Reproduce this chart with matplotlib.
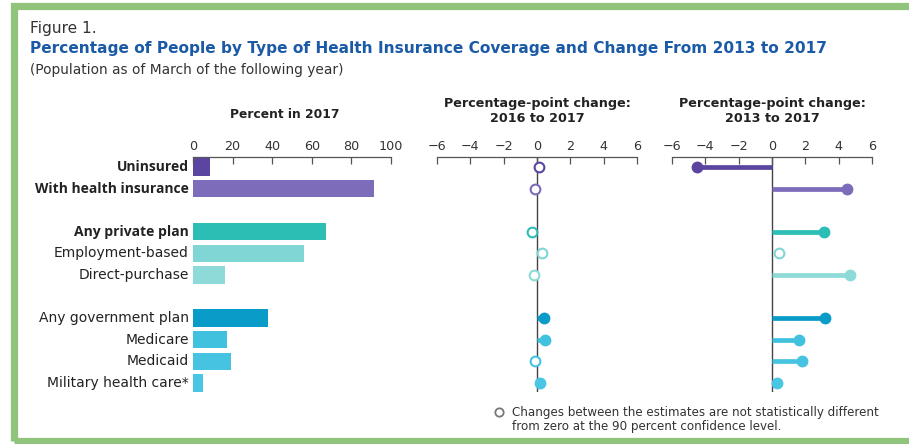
import matplotlib
matplotlib.use("Agg")
import matplotlib.pyplot as plt
from matplotlib.patches import Rectangle

plt.rcParams['font.family'] = ['DejaVu Sans']

categories = ["Uninsured", "With health insurance",
              "Any private plan", "Employment-based", "Direct-purchase",
              "Any government plan", "Medicare", "Medicaid", "Military health care*"]
bold = [True, True, True, False, False, False, False, False, False]
rows = [0, 1, 3, 4, 5, 7, 8, 9, 10]
pct_2017 = [8.8, 91.2, 67.2, 56.0, 16.0, 37.7, 17.2, 19.3, 4.8]
chg_16_17 = [0.1, -0.1, -0.3, 0.3, -0.2, 0.4, 0.5, -0.1, 0.2]
sig_16_17 = [False, False, False, False, False, True, True, False, True]
chg_13_17 = [-4.5, 4.5, 3.1, 0.4, 4.7, 3.2, 1.6, 1.8, 0.3]
sig_13_17 = [True, True, True, False, True, True, True, True, True]
colors = ["#5b45a0", "#7c6cba", "#2cbdb5", "#80d6d4", "#8ddad8",
          "#0a9cc9", "#40c2df", "#45c3e0", "#48c6e3"]

W, H = 909, 444
fig = plt.figure(figsize=(W / 100, H / 100), dpi=100)

# green frame
fig.patches.append(Rectangle((13.5 / W, 1 - 440.5 / H), 900 / W, 434 / H,
                             transform=fig.transFigure, fill=False,
                             edgecolor="#8fc47a", linewidth=5.2))

txt = "#333333"
fig.text(30 / W, 1 - 28 / H, "Figure 1.", fontsize=11.1, color=txt, va="center")
fig.text(30 / W, 1 - 48 / H,
         "Percentage of People by Type of Health Insurance Coverage and Change From 2013 to 2017",
         fontsize=11.1, color="#1b5aa6", fontweight="bold", va="center")
fig.text(30 / W, 1 - 70 / H, "(Population as of March of the following year)",
         fontsize=9.9, color=txt, va="center")

bottom = 1 - 392 / H
height = (392 - 157) / H
ylim = (10.42, -0.46)


def style_axis(ax, xlim, ticks, labels):
    ax.set_xlim(*xlim)
    ax.set_ylim(*ylim)
    for s in ["right", "bottom", "left"]:
        ax.spines[s].set_visible(False)
    ax.spines["top"].set_color("#555555")
    ax.spines["top"].set_linewidth(0.9)
    ax.xaxis.tick_top()
    ax.set_xticks(ticks)
    ax.set_xticklabels(labels)
    ax.tick_params(axis="x", direction="in", length=5, width=0.9, color="#555555",
                   labelsize=9.2, labelcolor=txt, pad=3)
    ax.set_yticks([])
    ax.patch.set_alpha(0)


# panel 1: bars
ax1 = fig.add_axes([193 / W, bottom, 198 / W, height])
ax1.barh(rows, pct_2017, height=0.8, color=colors, zorder=1)
style_axis(ax1, (0, 100), [0, 20, 40, 60, 80, 100], ["0", "20", "40", "60", "80", "100"])
for r, c, b in zip(rows, categories, bold):
    if b:
        ax1.text(-2.2, r, c, ha="right", va="center", fontsize=10.0, color="#222222",
                 fontweight="bold", family=["Open Sans", "DejaVu Sans"])
    else:
        ax1.text(-2.2, r, c, ha="right", va="center", fontsize=10.0, color="#222222")
fig.text(285 / W, 1 - 115 / H, "Percent in 2017", ha="center", va="center",
         fontsize=8.8, fontweight="bold", color="#222222")

chg_ticks = [-6, -4, -2, 0, 2, 4, 6]
chg_labels = ["\u22126", "\u22124", "\u22122", "0", "2", "4", "6"]


def lollipop(ax, vals, sig):
    ax.axvline(0, color="#444444", linewidth=1.0, zorder=1)
    for r, v, s, c in zip(rows, vals, sig, colors):
        if s:
            ax.plot([0, v], [r, r], color=c, linewidth=3.4, solid_capstyle="butt", zorder=2)
            ax.plot(v, r, "o", color=c, markersize=7.5, zorder=3)
        else:
            ax.plot(v, r, "o", markerfacecolor="white", markeredgecolor=c,
                    markeredgewidth=1.5, markersize=7, zorder=3)


ax2 = fig.add_axes([437 / W, bottom, 200 / W, height])
style_axis(ax2, (-6, 6), chg_ticks, chg_labels)
lollipop(ax2, chg_16_17, sig_16_17)
fig.text(537 / W, 1 - 111 / H, "Percentage-point change:\n2016 to 2017", ha="center",
         va="center", fontsize=9.2, fontweight="bold", color="#222222", linespacing=1.3)

ax3 = fig.add_axes([672 / W, bottom, 200 / W, height])
style_axis(ax3, (-6, 6), chg_ticks, chg_labels)
lollipop(ax3, chg_13_17, sig_13_17)
fig.text(772 / W, 1 - 111 / H, "Percentage-point change:\n2013 to 2017", ha="center",
         va="center", fontsize=9.2, fontweight="bold", color="#222222", linespacing=1.3)

# note
fig.lines.append(plt.Line2D([499 / W], [1 - 412 / H], transform=fig.transFigure,
                            marker="o", markersize=6, markerfacecolor="white",
                            markeredgecolor="#777777", markeredgewidth=1.3))
fig.text(512 / W, 1 - 419.5 / H,
         "Changes between the estimates are not statistically different\nfrom zero at the 90 percent confidence level.",
         fontsize=8.6, color=txt, va="center", linespacing=1.15)

fig.savefig("out.png", dpi=100)
